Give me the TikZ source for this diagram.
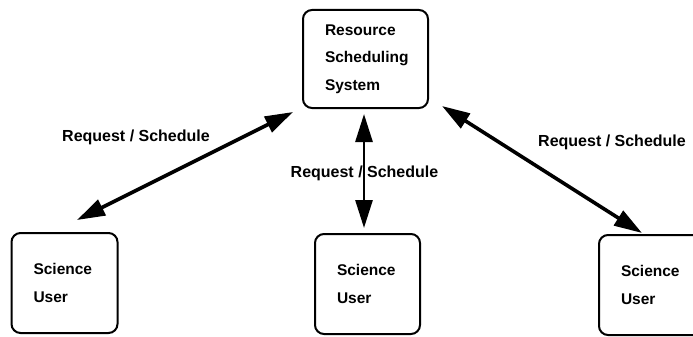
\documentclass[tikz,border=0pt]{standalone}
\usepackage{fontspec}
\setmainfont{Liberation Sans}
\usetikzlibrary{arrows.meta,positioning}

\begin{document}
\begin{tikzpicture}[
  x=1pt, y=-1pt,
  font=\bfseries\fontsize{15.5}{27.5}\selectfont,
  box/.style={draw, line width=2pt, rounded corners=9pt, align=left,
    inner xsep=22pt, minimum height=100pt},
  link/.style={arrows={Triangle[length=28pt,width=17pt]-Triangle[length=28pt,width=17pt]},
    line width=3.6pt},
  lbl/.style={font=\bfseries\fontsize{16}{18}\selectfont}
]
\useasboundingbox (0,0) rectangle (693,337);
\clip (0,0) rectangle (693,337);

% Scheduler
\node[box, text width=81pt, minimum height=98pt] (sched) at (365.5,59)
  {Resource\\Scheduling\\System};

% Users
\node[box, text width=62pt] (user1) at (64.5,283) {Science\\User};
\node[box, text width=61pt] (user2) at (367.5,284) {Science\\User};
\node[box, text width=66pt] (user3) at (654,285) {Science\\User};

% Arrow ends
\coordinate (s1) at (293,112);
\coordinate (u1) at (77,220);
\coordinate (s2) at (364,114);
\coordinate (u2) at (364,228);
\coordinate (s3) at (442,106);
\coordinate (u3) at (642,233);

\draw[link] (s1) -- (u1);
\draw[link, line width=2.8pt] (s2) -- (u2);
\draw[link] (s3) -- (u3);

% Labels
\node[lbl] (l1) at (136,137) {Request / Schedule};
\node[lbl] (l2) at (364.5,173) {Request / Schedule};
\node[lbl] (l3) at (612,142) {Request / Schedule};

\end{tikzpicture}
\end{document}
